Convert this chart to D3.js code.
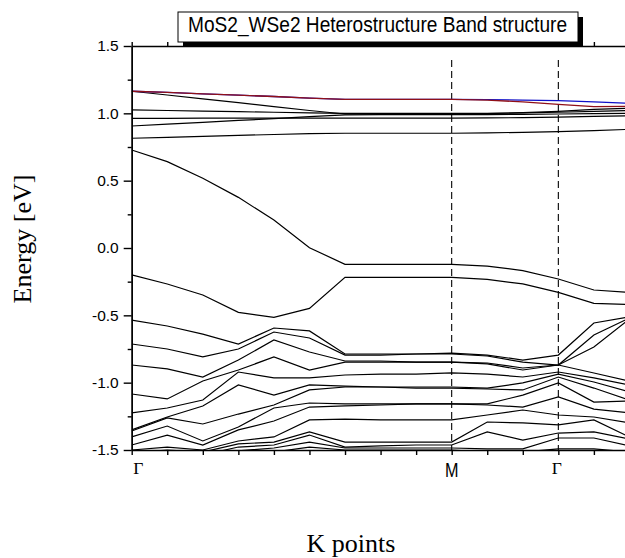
<!DOCTYPE html>
<html><head><meta charset="utf-8">
<script src="https://cdn.jsdelivr.net/npm/d3@7"></script>
<style>body{margin:0;background:#fff}svg{display:block}</style>
</head><body><svg id="c" width="625" height="558"></svg>
<script>
// ---------- data ----------
const kPoints = [0,1,2,3,4,5,6,7,8,9,10,11,12,13,14];
const kLabelPos = [0, 9, 12];
const kLabelText = ["Γ", "M", "Γ"];
const yTicks = [1.5, 1.0, 0.5, 0.0, -0.5, -1.0, -1.5];
const yMinorTicks = [1.25, 0.75, 0.25, -0.25, -0.75, -1.25];
const highSymPos = [9, 12];
const titleText = "MoS2_WSe2 Heterostructure Band structure";
const xTitle = "K points";
const yTitle = "Energy [eV]";

// conduction bands
const cbBlue = [1.164,1.155,1.145,1.135,1.125,1.113,1.104,1.104,1.104,1.104,1.102,1.098,1.094,1.085,1.075];
const cbRed  = [1.164,1.155,1.145,1.135,1.125,1.113,1.104,1.104,1.104,1.104,1.098,1.085,1.067,1.050,1.052];
const cb3 = [1.164,1.136,1.107,1.079,1.050,1.021,0.995,0.995,0.995,0.995,0.998,1.005,1.015,1.030,1.038];
const cb4 = [1.025,1.021,1.017,1.012,1.008,1.003,0.999,0.999,0.999,0.999,1.000,1.003,1.008,1.015,1.020];
const cb5 = [0.963,0.963,0.964,0.964,0.965,0.965,0.965,0.965,0.965,0.965,0.966,0.968,0.972,0.977,0.982];
const cb6 = [0.906,0.920,0.933,0.947,0.961,0.975,0.988,0.990,0.990,0.990,0.990,0.992,0.995,0.998,1.000];
const cb7 = [0.815,0.822,0.829,0.836,0.843,0.850,0.852,0.852,0.852,0.852,0.855,0.859,0.864,0.872,0.881];

// valence bands
const vb1  = [0.728,0.641,0.518,0.376,0.208,0.002,-0.121,-0.121,-0.121,-0.121,-0.134,-0.168,-0.230,-0.312,-0.330];
const vb2  = [-0.200,-0.267,-0.349,-0.478,-0.515,-0.448,-0.218,-0.218,-0.218,-0.218,-0.233,-0.267,-0.330,-0.411,-0.420];
const vb3  = [-0.535,-0.579,-0.639,-0.713,-0.594,-0.616,-0.787,-0.787,-0.787,-0.780,-0.795,-0.832,-0.795,-0.557,-0.512];
const vb4  = [-0.713,-0.750,-0.809,-0.750,-0.624,-0.668,-0.795,-0.795,-0.787,-0.787,-0.802,-0.847,-0.869,-0.646,-0.520];
const vb5  = [-0.869,-0.898,-0.958,-0.832,-0.683,-0.772,-0.839,-0.839,-0.847,-0.847,-0.854,-0.891,-0.869,-0.735,-0.527];
const vb6  = [-1.084,-1.121,-0.988,-0.906,-0.809,-0.906,-0.847,-0.847,-0.847,-0.847,-0.861,-0.906,-0.869,-0.928,-0.988];
const vb7  = [-1.225,-1.188,-1.129,-0.921,-0.965,-0.965,-0.943,-0.936,-0.936,-0.928,-0.936,-0.958,-0.921,-0.965,-1.017];
const vb8  = [-1.351,-1.255,-1.173,-1.017,-1.092,-1.017,-1.025,-1.032,-1.032,-1.032,-1.040,-1.002,-0.936,-0.995,-1.069];
const vb9  = [-1.359,-1.262,-1.307,-1.233,-1.166,-1.054,-1.032,-1.032,-1.040,-1.040,-1.047,-1.054,-0.958,-1.040,-1.129];
const vb10 = [-1.403,-1.322,-1.433,-1.329,-1.188,-1.151,-1.158,-1.158,-1.158,-1.158,-1.158,-1.092,-1.002,-1.144,-1.136];
const vb11 = [-1.463,-1.389,-1.463,-1.351,-1.285,-1.181,-1.173,-1.166,-1.158,-1.158,-1.166,-1.181,-1.106,-1.196,-1.225];
const vb12 = [-1.500,-1.478,-1.500,-1.433,-1.403,-1.277,-1.270,-1.277,-1.277,-1.277,-1.240,-1.203,-1.240,-1.255,-1.299];
const vb13 = [-1.522,-1.500,-1.515,-1.455,-1.441,-1.366,-1.441,-1.441,-1.441,-1.441,-1.292,-1.299,-1.314,-1.277,-1.403];
const vb14 = [-1.545,-1.522,-1.537,-1.478,-1.463,-1.389,-1.478,-1.470,-1.463,-1.463,-1.366,-1.426,-1.374,-1.366,-1.418];
const vb15 = [-1.574,-1.552,-1.567,-1.507,-1.485,-1.441,-1.485,-1.485,-1.485,-1.485,-1.492,-1.492,-1.411,-1.411,-1.470];
const vb16 = [-1.611,-1.589,-1.597,-1.537,-1.515,-1.478,-1.500,-1.500,-1.500,-1.500,-1.515,-1.515,-1.492,-1.492,-1.515];

const blackBands = [cb3, cb4, cb5, cb6, cb7, vb1, vb2, vb3, vb4, vb5, vb6, vb7, vb8, vb9, vb10, vb11, vb12, vb13, vb14, vb15, vb16];

// ---------- drawing ----------
const svg = d3.select("#c");
const x = d3.scaleLinear().domain([0, 15]).range([131.7, 665]);
const y = d3.scaleLinear().domain([-1.5, 1.5]).range([450, 46]);

svg.append("defs").append("clipPath").attr("id", "plot")
  .append("rect").attr("x", x(0)).attr("y", y(1.5) - 1)
  .attr("width", x(15) - x(0)).attr("height", y(-1.5) - y(1.5) + 1.5);

const line = d3.line().x((d, i) => x(kPoints[i])).y(d => y(d));

const plot = svg.append("g").attr("clip-path", "url(#plot)");

// high-symmetry dashed lines
plot.selectAll("line.hs").data(highSymPos).join("line")
  .attr("x1", d => x(d)).attr("x2", d => x(d))
  .attr("y1", 60).attr("y2", y(-1.5))
  .attr("stroke", "#000").attr("stroke-width", 1.1).attr("stroke-dasharray", "7,4");

plot.selectAll("path.band").data(blackBands).join("path")
  .attr("class", "band").attr("d", line)
  .attr("fill", "none").attr("stroke", "#000").attr("stroke-width", 1.2);

plot.append("path").datum(cbBlue).attr("d", line)
  .attr("fill", "none").attr("stroke", "#1010c8").attr("stroke-width", 1.3);
plot.append("path").datum(cbRed).attr("d", line)
  .attr("fill", "none").attr("stroke", "#901018").attr("stroke-width", 1.3);

// axes
const axisStyle = g => {
  g.select(".domain").attr("stroke", "#000").attr("stroke-width", 1.4);
  g.selectAll(".tick line").attr("stroke", "#000").attr("stroke-width", 1.4);
};

svg.append("g").attr("transform", `translate(${x(0)},0)`)
  .call(d3.axisLeft(y).tickValues(yMinorTicks).tickSize(4).tickSizeOuter(0).tickFormat(""))
  .call(axisStyle);

const yAx = svg.append("g").attr("transform", `translate(${x(0)},0)`)
  .call(d3.axisLeft(y).tickValues(yTicks).tickSize(8).tickSizeOuter(0).tickFormat(d => d.toFixed(1)).tickPadding(5))
  .call(axisStyle);
yAx.selectAll("text").attr("font-family", "'Liberation Sans', Arial, sans-serif")
  .attr("font-size", 15.5).attr("fill", "#000");

svg.append("g").attr("transform", `translate(0,${y(-1.5)})`)
  .call(d3.axisBottom(x).tickValues(kPoints).tickSize(5).tickSizeOuter(0).tickFormat(""))
  .call(axisStyle);

svg.append("g").attr("transform", `translate(0,${y(1.5)})`)
  .call(d3.axisTop(x).tickValues(kPoints).tickSize(4).tickSizeOuter(0).tickFormat(""))
  .call(axisStyle);

// k-point labels
svg.selectAll("text.klab").data(kLabelPos).join("text")
  .attr("class", "klab")
  .attr("x", (d, i) => x(d) + (i === 0 ? 6.5 : (i === 2 ? -1.5 : 0)))
  .attr("y", (d, i) => kLabelText[i] === "M" ? 476.5 : 474.3)
  .attr("text-anchor", "middle")
  .attr("font-family", (d, i) => kLabelText[i] === "M" ? "'Liberation Sans', Arial, sans-serif" : "'Liberation Serif', 'Times New Roman', serif")
  .attr("font-size", (d, i) => kLabelText[i] === "M" ? 20 : 17.5)
  .attr("textLength", (d, i) => kLabelText[i] === "M" ? 13.5 : null)
  .attr("lengthAdjust", "spacingAndGlyphs")
  .text((d, i) => kLabelText[i]);

// axis titles
svg.append("text").attr("x", 351).attr("y", 551.5).attr("text-anchor", "middle")
  .attr("font-family", "'Liberation Serif', 'Times New Roman', serif").attr("font-size", 26)
  .text(xTitle);
svg.append("text").attr("transform", "translate(31,239) rotate(-90)").attr("text-anchor", "middle")
  .attr("font-family", "'Liberation Serif', 'Times New Roman', serif").attr("font-size", 26)
  .text(yTitle);

// title box with shadow
svg.append("rect").attr("x", 183).attr("y", 17).attr("width", 400).attr("height", 30).attr("fill", "#000");
svg.append("rect").attr("x", 178).attr("y", 12).attr("width", 400).attr("height", 30)
  .attr("fill", "#fff").attr("stroke", "#000").attr("stroke-width", 1);
svg.append("text").attr("x", 377.5).attr("y", 32).attr("text-anchor", "middle")
  .attr("font-family", "'Liberation Sans', Arial, sans-serif").attr("font-size", 22)
  .attr("textLength", 379).attr("lengthAdjust", "spacingAndGlyphs")
  .text(titleText);
</script></body></html>
